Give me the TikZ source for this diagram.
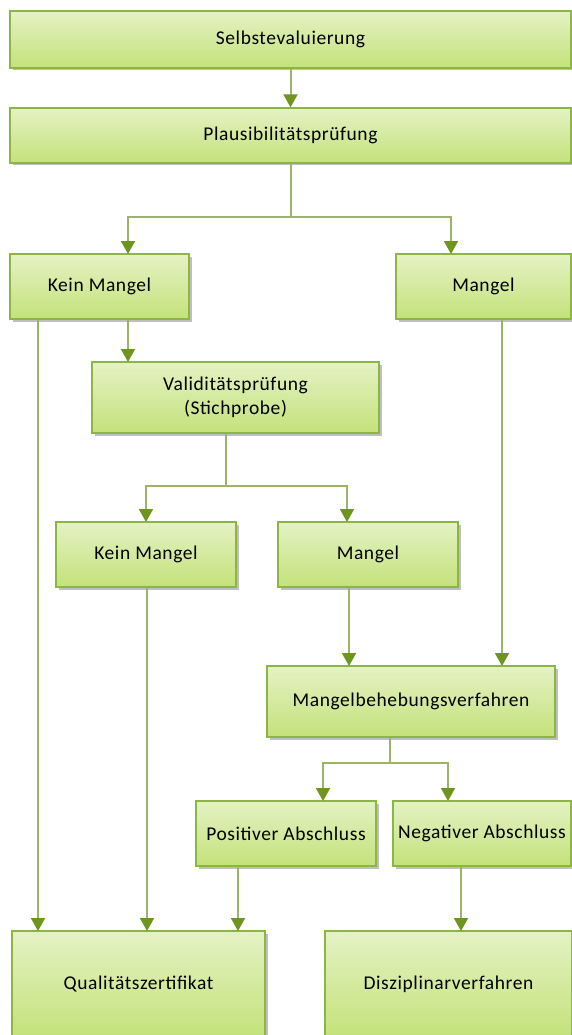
\documentclass[tikz,border=0pt]{standalone}
\usepackage{fontspec}
\setmainfont{Carlito}[LetterSpace=3]
\usetikzlibrary{arrows.meta,shadows}
\definecolor{boxtop}{HTML}{E4F2C4}
\definecolor{boxbot}{HTML}{C3E27A}
\definecolor{boxline}{HTML}{8DB543}
\definecolor{linecol}{HTML}{9BB469}
\definecolor{tipcol}{HTML}{6E961E}
\tikzset{
  box/.style={draw=boxline, line width=1.3pt, top color=boxtop, bottom color=boxbot,
    inner sep=0pt, align=center, font=\fontsize{19.5}{24}\selectfont,
    drop shadow={shadow xshift=2.5pt, shadow yshift=-2.5pt, fill=black, opacity=0.25}},
  plainline/.style={draw=linecol, line width=2pt},
  conn/.style={plainline, -{Triangle[width=14pt,length=13pt,color=tipcol,fill=tipcol]}}
}
\begin{document}
\begin{tikzpicture}[x=1pt,y=-1pt]
\useasboundingbox (0,0) rectangle (572,1035);
% boxes
\node[box, minimum width=561pt, minimum height=57pt] (sel) at (290.5,39.5) {Selbstevaluierung};
\node[box, minimum width=561pt, minimum height=55pt] (pla) at (290.5,135.5) {Plausibilitätsprüfung};
\node[box, minimum width=179pt, minimum height=65pt] (km1) at (99.5,286.5) {Kein Mangel};
\node[box, minimum width=175pt, minimum height=65pt] (m1) at (483.5,286.5) {Mangel};
\node[box, minimum width=287pt, minimum height=71pt] (val) at (235.5,397.5) {Validitätsprüfung\\(Stichprobe)};
\node[box, minimum width=180pt, minimum height=65pt] (km2) at (146,554.5) {Kein Mangel};
\node[box, minimum width=180pt, minimum height=65pt] (m2) at (368,554.5) {Mangel};
\node[box, minimum width=288pt, minimum height=71pt] (mbv) at (411,701.5) {Mangelbehebungsverfahren};
\node[box, minimum width=180pt, minimum height=65pt] (pos) at (286,833.5) {Positiver Abschluss};
\node[box, minimum width=178pt, minimum height=65pt] (neg) at (482,833.5) {Negativer Abschluss};
\node[box, minimum width=253pt, minimum height=106pt] (qz) at (138.5,984) {Qualitätszertifikat};
\node[box, minimum width=247pt, minimum height=106pt] (dz) at (448.5,984) {Disziplinarverfahren};
% coordinates
\coordinate (b1) at (290.5,217);
\coordinate (km1in) at (128,254);
\coordinate (m1in) at (451,254);
\coordinate (b2) at (226,486);
\coordinate (km2in) at (146,522);
\coordinate (m2in) at (347,522);
\coordinate (b3) at (390,763);
\coordinate (posin) at (323,801);
\coordinate (negin) at (448,801);
\coordinate (qzA) at (38,931);
\coordinate (qzB) at (147,931);
\coordinate (qzC) at (238,931);
\coordinate (dzA) at (461,931);
\coordinate (mbvA) at (349,666);
\coordinate (mbvB) at (502,666);
\coordinate (valin) at (128,362);
% connectors
\draw[conn] (sel) -- (pla);
\draw[plainline] (pla.south) -- (b1);
\draw[conn] (b1) -| (km1in);
\draw[conn] (b1) -| (m1in);
\draw[conn] (km1.south -| valin) -- (valin);
\draw[conn] (km1.south -| qzA) -- (qzA);
\draw[plainline] (val.south -| b2) -- (b2);
\draw[conn] (b2) -| (km2in);
\draw[conn] (b2) -| (m2in);
\draw[conn] (km2.south -| qzB) -- (qzB);
\draw[conn] (m2.south -| mbvA) -- (mbvA);
\draw[conn] (m1.south -| mbvB) -- (mbvB);
\draw[plainline] (mbv.south -| b3) -- (b3);
\draw[conn] (b3) -| (posin);
\draw[conn] (b3) -| (negin);
\draw[conn] (pos.south -| qzC) -- (qzC);
\draw[conn] (neg.south -| dzA) -- (dzA);
\end{tikzpicture}
\end{document}
